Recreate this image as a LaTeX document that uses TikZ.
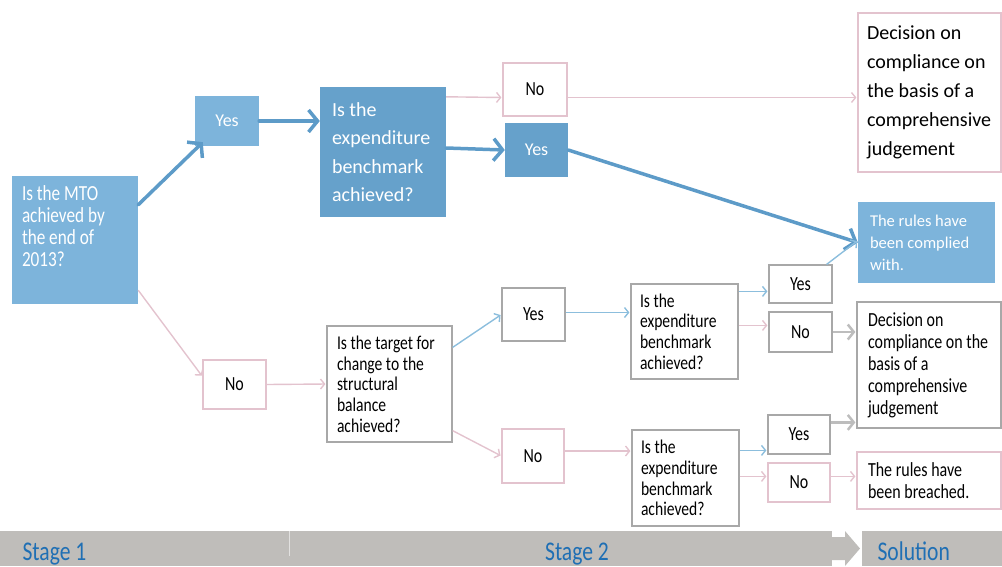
\documentclass[tikz,border=0pt]{standalone}
\usepackage{fontspec}
\setmainfont{Carlito}
\newfontfamily\narrowfont[FakeStretch=0.8]{Carlito}
\usetikzlibrary{arrows.meta}
\hyphenpenalty=10000

\definecolor{boxblue}{HTML}{7DB4DB}
\definecolor{deepblue}{HTML}{66A1CB}
\definecolor{thickblue}{HTML}{5D9BC8}
\definecolor{thinblue}{HTML}{8CBEDD}
\definecolor{pinkline}{HTML}{E3C3CE}
\definecolor{greyline}{HTML}{A8A8A8}
\definecolor{greyarrow}{HTML}{BDBDBD}
\definecolor{barcol}{HTML}{BFBDBA}
\definecolor{stagecol}{HTML}{1F6FB4}

\tikzset{
  bluebox/.style={rectangle, fill=boxblue, text=white, inner sep=0pt},
  deepbox/.style={rectangle, fill=deepblue, text=white, inner sep=0pt},
  pinkbox/.style={rectangle, draw=pinkline, line width=1.2pt, fill=white, inner sep=0pt},
  greybox/.style={rectangle, draw=greyline, line width=1.2pt, fill=white, inner sep=0pt},
  lefttext/.style={align=left, execute at begin node={\spaceskip=0pt\relax\xspaceskip=0pt\relax}},
  answer/.style={font=\fontsize{20}{22}\narrowfont},
  question/.style={lefttext, font=\fontsize{19.5}{20.7}\narrowfont},
  thickarrow/.style={draw=thickblue, line width=3.5pt, line cap=round,
    -{Straight Barb[length=9pt,width=22pt]}},
  bluearrow/.style={draw=thinblue, line width=1.4pt, shorten >=1pt,
    -{Straight Barb[length=4pt,width=10pt]}},
  pinkarrow/.style={draw=pinkline, line width=1.4pt, shorten >=1pt,
    -{Straight Barb[length=4pt,width=10pt]}},
  greyarrow/.style={draw=greyarrow, line width=2.5pt, shorten >=1pt,
    -{Straight Barb[length=6pt,width=15pt]}}
}

\begin{document}
\begin{tikzpicture}[x=1pt,y=-1pt]
  \useasboundingbox (0,0) rectangle (1002,566);

  % stage 1
  \node (mto) at (75,240) [bluebox, minimum width=126pt, minimum height=128pt,
    font=\fontsize{21.5}{22}\narrowfont]
    {\parbox[c][128pt][t]{106pt}{\vspace{10pt}Is the MTO\\achieved by\\the end of\\2013?}};
  \node (yes1) at (227,121) [bluebox, minimum width=64pt, minimum height=50pt,
    font=\fontsize{18}{20}\selectfont] {Yes};
  \node (nolow) at (234.5,384.5) [pinkbox, answer, minimum width=63pt, minimum height=49pt] {No};

  % MTO reached
  \node (q2) at (383,152) [deepbox, lefttext, minimum width=126pt, minimum height=130pt,
    text width=102pt, inner xsep=12pt, font=\fontsize{20}{28.5}\selectfont]
    {Is the\\expenditure\\benchmark\\achieved?};
  \node (notop) at (535,89.5) [pinkbox, answer, minimum width=64pt, minimum height=53pt] {No};
  \node (yestop) at (536.5,150) [deepbox, minimum width=63pt, minimum height=54pt,
    font=\fontsize{18}{20}\selectfont] {Yes};

  % MTO not reached
  \node (qtarget) at (389.5,384) [greybox, question, minimum width=125pt, minimum height=116pt,
    text width=105pt, inner xsep=10pt]
    {Is~the~target~for\\change~to~the\\structural\\balance\\achieved?};
  \node (yesmid) at (533.5,314.5) [greybox, answer, minimum width=63pt, minimum height=53pt] {Yes};
  \node (nomid) at (533,456) [pinkbox, answer, minimum width=62pt, minimum height=54pt] {No};
  \node (qexpu) at (684.5,331.5) [greybox, question, minimum width=107pt, minimum height=95pt,
    text width=89pt, inner xsep=9pt] {Is the\\expenditure\\benchmark\\achieved?};
  \node (qexpl) at (685.5,478) [greybox, question, minimum width=107pt, minimum height=96pt,
    text width=89pt, inner xsep=9pt] {Is the\\expenditure\\benchmark\\achieved?};
  \node (yesa) at (800.5,284) [greybox, answer, minimum width=63pt, minimum height=38pt] {Yes};
  \node (noa) at (800.5,332) [greybox, answer, minimum width=63pt, minimum height=40pt] {No};
  \node (yesb) at (799,434.5) [greybox, answer, minimum width=62pt, minimum height=39pt] {Yes};
  \node (nob) at (799,482.5) [pinkbox, answer, minimum width=62pt, minimum height=39pt] {No};

  % outcomes
  \node (dectop) at (929.5,92.5) [pinkbox, lefttext, minimum width=143pt, minimum height=159pt,
    text width=125pt, inner xsep=9pt, font=\fontsize{20}{29}\selectfont]
    {Decision on\\compliance~on\\the~basis~of~a\\comprehensive\\judgement};
  \node (rules) at (926.5,242.5) [bluebox, lefttext, minimum width=137pt, minimum height=81pt,
    text width=113pt, inner xsep=12pt, font=\fontsize{16.5}{22}\selectfont]
    {The~rules~have\\been~complied\\with.};
  \node (decmid) at (929,365) [greybox, lefttext, minimum width=144pt, minimum height=126pt,
    text width=122pt, inner xsep=11pt, font=\fontsize{20}{22}\narrowfont]
    {Decision on\\compliance~on~the\\basis of a\\comprehensive\\judgement};
  \node (rulesb) at (929,480.5) [pinkbox, lefttext, minimum width=144pt, minimum height=57pt,
    text width=122pt, inner xsep=11pt, font=\fontsize{20}{22}\narrowfont]
    {The~rules~have\\been~breached.};

  % connectors
  \draw [thickarrow] ([yshift=-29pt]mto.north east) to ([xshift=8pt,yshift=4pt]yes1.south west);
  \draw [thickarrow] (yes1.east) to (yes1.east -| q2.west);
  \draw [thickarrow] ([yshift=4pt]q2.east) to (yestop.west);
  \draw [thickarrow] (yestop.east) to (rules.west);
  \draw [pinkarrow] ([yshift=-10pt]q2.north east) to ([yshift=-8pt]notop.west);
  \draw [pinkarrow] ([yshift=-8pt]notop.east) to ([yshift=-8pt]notop.east -| dectop.west);
  \draw [pinkarrow] ([yshift=14pt]mto.south east) to ([yshift=8pt]nolow.west);
  \draw [pinkarrow] (nolow.east) to (qtarget.west);
  \draw [bluearrow] ([yshift=-22pt]qtarget.north east) to (yesmid.west);
  \draw [pinkarrow] ([yshift=12pt]qtarget.south east) to (nomid.west);
  \draw [bluearrow] ([yshift=2pt]yesmid.east) to ([yshift=2pt]yesmid.east -| qexpu.west);
  \draw [pinkarrow] ([yshift=5pt]nomid.east) to ([yshift=5pt]nomid.east -| qexpl.west);
  \draw [bluearrow] ([yshift=-8pt]qexpu.north east) to ([yshift=-8pt]qexpu.north east -| yesa.west);
  \draw [pinkarrow] ([yshift=-42pt]qexpu.north east) to ([yshift=-42pt]qexpu.north east -| noa.west);
  \draw [bluearrow] ([xshift=-6pt]yesa.north east) to ([yshift=2pt]rules.west);
  \draw [greyarrow] (noa.east) to (noa.east -| decmid.west);
  \draw [bluearrow] ([yshift=-21pt]qexpl.north east) to ([yshift=-21pt]qexpl.north east -| yesb.west);
  \draw [pinkarrow] ([yshift=-47pt]qexpl.north east) to ([yshift=-47pt]qexpl.north east -| nob.west);
  \draw [greyarrow] ([yshift=-8pt]yesb.north east) to ([yshift=-8pt]yesb.north east -| decmid.west);
  \draw [pinkarrow] ([yshift=-14pt]nob.north east) to ([yshift=-14pt]nob.north east -| rulesb.west);

  % stage bar
  \fill [barcol] (0,531) rectangle (832,566);
  \fill [barcol] (832,537) -- (845,537) -- (845,531) -- (860,548.5) -- (845,566)
    -- (845,560) -- (832,560) -- cycle;
  \fill [barcol] (862,531) rectangle (1002,566);
  \draw [white!55!barcol, line width=1pt] (289,531) -- (289,556);
  \node (stage1) at (19,560) [anchor=base west, text=stagecol,
    font=\fontsize{27}{30}\narrowfont] {Stage 1};
  \node (stage2) at (577,560) [anchor=base, text=stagecol,
    font=\fontsize{27}{30}\narrowfont] {Stage 2};
  \node (solution) at (874,560) [anchor=base west, text=stagecol,
    font=\fontsize{27}{30}\narrowfont] {Solution};
\end{tikzpicture}
\end{document}
